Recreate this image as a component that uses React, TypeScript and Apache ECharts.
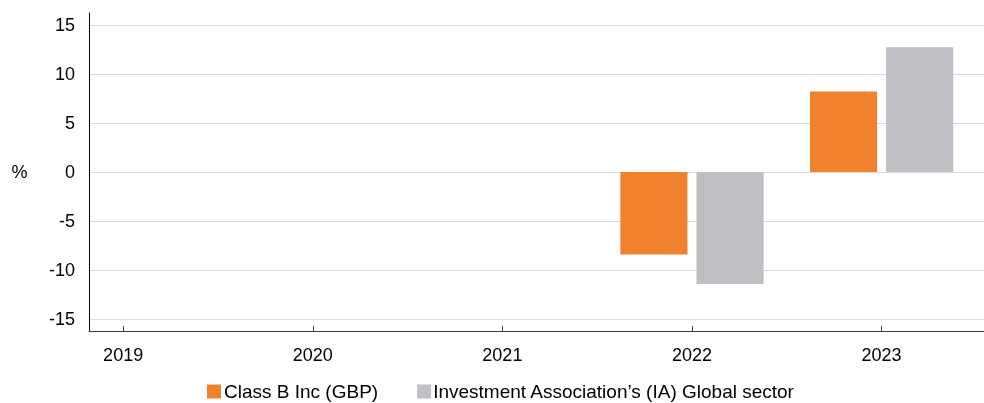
import React, { useEffect, useRef } from "react";
import * as echarts from "echarts";

const years = [2019, 2020, 2021, 2022, 2023];
const classB = [null, null, null, -8.4, 8.2];
const iaGlobal = [null, null, null, -11.4, 12.7];
const yTicks = [-15, -10, -5, 0, 5, 10, 15];
const seriesNames = ["Class B Inc (GBP)", "Investment Association’s (IA) Global sector"];
const colors = ["#F0822E", "#BEBFC2"];
const yUnit = "%";

const FONT = '"Liberation Sans", Arial, Helvetica, sans-serif';

export default function App() {
  const ref = useRef<HTMLDivElement>(null);

  useEffect(() => {
    if (!ref.current) return;
    const chart = echarts.init(ref.current, undefined, { renderer: "svg" });
    const toPairs = (vals: (number | null)[]) =>
      years.map((y, i) => [y, vals[i] === null ? "-" : vals[i]]);

    chart.setOption({
      animation: false,
      textStyle: { fontFamily: FONT },
      grid: { left: 89, right: 0, top: 13, bottom: 72, containLabel: false, outerBoundsMode: "none" },
      legend: {
        left: 207,
        top: 382,
        padding: 0,
        itemWidth: 14,
        itemHeight: 14,
        itemGap: 39,
        icon: "rect",
        textStyle: { fontSize: 19, color: "#000", fontFamily: FONT, lineHeight: 19 },
        data: [
          { name: seriesNames[0], textStyle: { padding: [0, 0, 0, -2] } },
          { name: seriesNames[1], textStyle: { padding: [0, 0, 0, -3] } },
        ],
      },
      graphic: [
        {
          type: "text",
          x: 19.5,
          y: 172,
          style: {
            text: yUnit,
            fontSize: 18,
            fontFamily: FONT,
            fill: "#000",
            align: "center",
            verticalAlign: "middle",
          },
        },
      ],
      xAxis: {
        type: "value",
        min: 2018.82,
        max: 2023.54,
        axisLine: { show: true, onZero: false, lineStyle: { color: "#404040", width: 1 } },
        axisTick: { show: true, inside: true, length: 5, customValues: years, lineStyle: { color: "#404040" } },
        axisLabel: {
          customValues: years,
          formatter: (v: number) => String(v),
          fontSize: 18,
          color: "#000",
          margin: 15,
          fontFamily: FONT,
        },
        splitLine: { show: false },
      },
      yAxis: {
        type: "value",
        min: -16.2,
        max: 16.2,
        axisLine: { show: true, lineStyle: { color: "#000", width: 1 } },
        axisTick: { show: false, customValues: yTicks },
        axisLabel: {
          customValues: yTicks,
          fontSize: 18,
          color: "#000",
          margin: 14,
          fontFamily: FONT,
        },
        splitLine: { show: true, lineStyle: { color: "#DADADA", width: 1 } },
      },
      series: [
        {
          name: seriesNames[0],
          type: "bar",
          data: toPairs(classB),
          itemStyle: { color: colors[0] },
          barWidth: "35.4%",
          barGap: "13.4%",
        },
        {
          name: seriesNames[1],
          type: "bar",
          data: toPairs(iaGlobal),
          itemStyle: { color: colors[1] },
          barWidth: "35.4%",
          barGap: "13.4%",
        },
      ],
    });
    return () => chart.dispose();
  }, []);

  return (
    <div
      ref={ref}
      style={{ position: "fixed", left: 0, top: 0, width: 984, height: 403 }}
    />
  );
}
